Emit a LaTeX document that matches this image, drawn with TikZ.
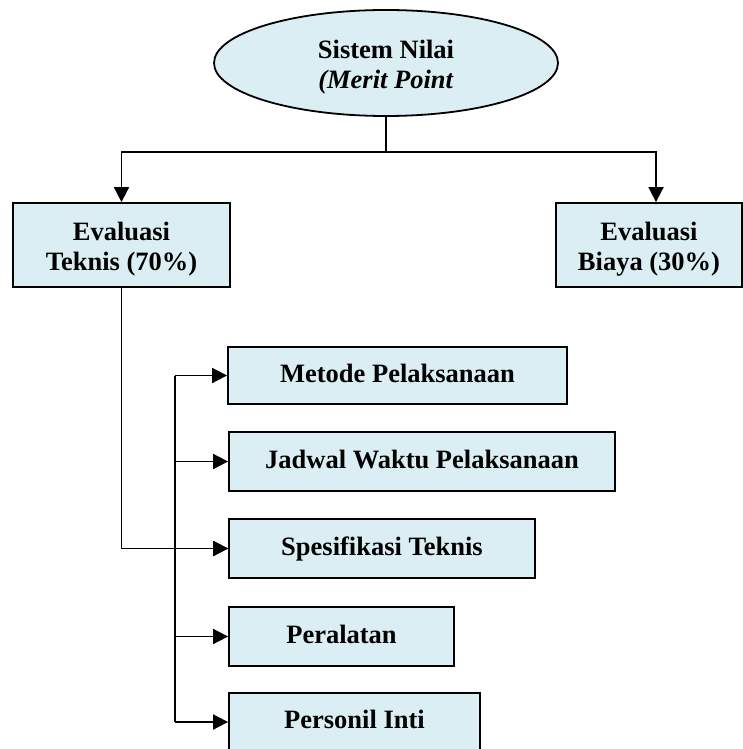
\documentclass[tikz,border=0pt]{standalone}
\usepackage{fontspec}
\setmainfont{Liberation Serif}
\usetikzlibrary{shapes.geometric,arrows.meta}
\definecolor{boxfill}{HTML}{DAEEF3}
\tikzset{
  kotak/.style={draw, line width=1.8pt, fill=boxfill, inner sep=0pt, align=center,
    font=\fontsize{26.5}{30}\selectfont\bfseries},
  baris/.style={kotak, text height=19pt, text depth=6pt},
  isi/.style={label={[yshift=-4pt, align=center, font=\fontsize{26.5}{30}\selectfont\bfseries]center:{#1}}},
  garis/.style={line width=1.8pt},
  panah/.style={line width=1.8pt, -{Triangle[length=15pt,width=15pt]}},
}
\begin{document}
\begin{tikzpicture}[x=1pt,y=-1pt]
\useasboundingbox (0,0) rectangle (743,749);
% puncak
\node[ellipse, kotak, minimum width=344pt, minimum height=106pt,
  isi={Sistem Nilai\\\textit{(Merit Point}}] (sistem) at (386,63) {};
\node[kotak, minimum width=217pt, minimum height=84pt,
  isi={Evaluasi\\Teknis (70\%)}] (teknis) at (121.5,245) {};
\node[kotak, minimum width=186pt, minimum height=84pt,
  isi={Evaluasi\\Biaya (30\%)}] (biaya) at (649,245) {};
% kriteria teknis
\node[baris, minimum width=339pt, minimum height=57pt] (metode) at (397.5,375.5) {Metode Pelaksanaan};
\node[baris, minimum width=386pt, minimum height=59pt] (jadwal) at (422,461.5) {Jadwal Waktu Pelaksanaan};
\node[baris, minimum width=306pt, minimum height=59pt] (spek) at (382,548.5) {Spesifikasi Teknis};
\node[baris, minimum width=225pt, minimum height=59pt] (alat) at (341.5,636.5) {Peralatan};
\node[baris, minimum width=251pt, minimum height=58pt] (personil) at (354.5,722) {Personil Inti};
% garis penghubung
\coordinate (cabang) at (386,152);
\coordinate (bus) at (175,0);
\draw[garis] (sistem.south) -- (cabang);
\draw[panah] (cabang) -| (teknis.north);
\draw[panah] (cabang) -| ([xshift=7pt]biaya.north);
\draw[panah] (teknis.south) |- (spek.west);
\draw[garis] (metode.west -| bus) -- (personil.west -| bus);
\foreach \n in {metode,jadwal,spek,alat,personil}
  \draw[panah] (\n.west -| bus) -- (\n.west);
\end{tikzpicture}
\end{document}
